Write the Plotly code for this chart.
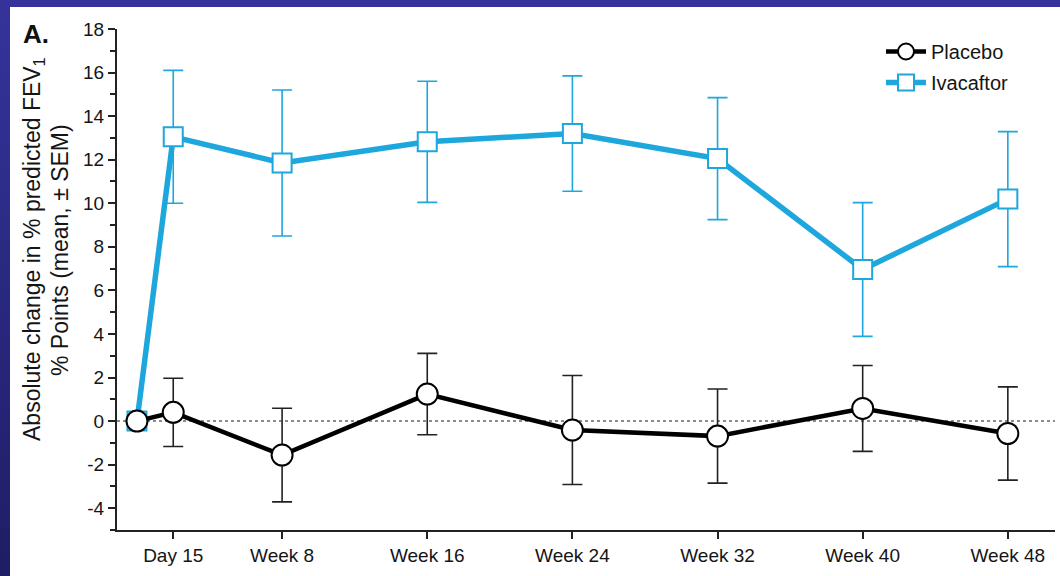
import plotly.graph_objects as go

# Visit schedule (weeks from baseline) and axis labels
weeks = [0, 2, 8, 16, 24, 32, 40, 48]
tick_weeks = [2, 8, 16, 24, 32, 40, 48]
tick_labels = ["Day 15", "Week 8", "Week 16", "Week 24", "Week 32", "Week 40", "Week 48"]
y_tick_vals = [-4, -2, 0, 2, 4, 6, 8, 10, 12, 14, 16, 18]
y_tick_text = ["-4", "-2", "0", "2", "4", "6", "8", "10", "12", "14", "16", "18"]

# Absolute change in % predicted FEV1 (mean) and SEM
placebo_mean = [0.0, 0.40, -1.56, 1.24, -0.41, -0.69, 0.58, -0.57]
placebo_sem = [0.0, 1.57, 2.15, 1.87, 2.50, 2.16, 1.97, 2.14]
ivacaftor_mean = [0.0, 13.05, 11.85, 12.82, 13.20, 12.05, 6.96, 10.19]
ivacaftor_sem = [0.0, 3.05, 3.35, 2.78, 2.65, 2.80, 3.07, 3.10]

BLUE = "#1ea7dd"
FONT = "Liberation Sans, Arial, sans-serif"

fig = go.Figure()

# Ivacaftor drawn first so the placebo baseline marker sits on top
fig.add_trace(go.Scatter(
    x=weeks, y=ivacaftor_mean, name="Ivacaftor", mode="lines+markers",
    line=dict(color=BLUE, width=5.5),
    marker=dict(symbol="square", size=19, color="white", line=dict(color=BLUE, width=2)),
    error_y=dict(type="data", array=ivacaftor_sem, visible=True, color=BLUE, thickness=1.6, width=10),
    legendrank=2, legendgroup="iva",
))
fig.add_trace(go.Scatter(
    x=weeks, y=placebo_mean, name="Placebo", mode="lines+markers",
    line=dict(color="black", width=4.5),
    marker=dict(symbol="circle", size=21, color="white", line=dict(color="black", width=2)),
    error_y=dict(type="data", array=placebo_sem, visible=True, color="#222222", thickness=1.6, width=10),
    legendrank=1, legendgroup="pla",
))

# Frame strips around the white panel (stepped gradient on the left edge)
shapes = []
L, PW = 117, 938
T, PH = 29, 501
def px_x(p):
    return (p - L) / PW
def px_y(p):
    return (T + PH - p) / PH

shapes.append(dict(type="rect", xref="paper", yref="paper", layer="below",
                   x0=px_x(0), x1=px_x(1060), y0=px_y(7), y1=px_y(0),
                   fillcolor="#35339a", line=dict(width=0)))
steps = 24
c0 = (0x35, 0x33, 0x9a)
c1 = (0x1e, 0x1e, 0x66)
for i in range(steps):
    f = i / (steps - 1)
    col = "rgb({},{},{})".format(*[round(a + (b - a) * f) for a, b in zip(c0, c1)])
    y_top = 576 * i / steps
    y_bot = 576 * (i + 1) / steps + 1
    shapes.append(dict(type="rect", xref="paper", yref="paper", layer="below",
                       x0=px_x(0), x1=px_x(10), y0=px_y(y_bot), y1=px_y(y_top),
                       fillcolor=col, line=dict(width=0)))

# Dotted zero reference line
shapes.append(dict(type="line", xref="paper", yref="y", x0=0, x1=1, y0=0, y1=0,
                   line=dict(color="#666666", width=1.5, dash="dot"), layer="below"))

fig.update_layout(
    width=1060, height=576,
    margin=dict(l=L, r=1060 - L - PW, t=T, b=576 - T - PH),
    paper_bgcolor="white", plot_bgcolor="white",
    font=dict(family=FONT, size=18, color="#151515"),
    shapes=shapes,
    showlegend=True,
    legend=dict(x=px_x(881), y=px_y(32), xanchor="left", yanchor="top",
                font=dict(size=20, color="#151515"), bgcolor="rgba(0,0,0,0)",
                tracegroupgap=2, itemwidth=40),
    xaxis=dict(range=[-1.1, 50.6], tickmode="array", tickvals=tick_weeks, ticktext=tick_labels,
               showline=True, linecolor="#222222", linewidth=2, ticks="outside", ticklen=7,
               tickwidth=2, tickcolor="#222222", showgrid=False, zeroline=False,
               tickfont=dict(size=19)),
    yaxis=dict(range=[-5, 18], tickmode="array", tickvals=y_tick_vals, ticktext=y_tick_text,
               showline=True, linecolor="#222222", linewidth=2, ticks="outside", ticklen=7,
               tickwidth=2, tickcolor="#222222", showgrid=False, zeroline=False,
               tickfont=dict(size=19),
               minor=dict(ticks="outside", ticklen=5, tickwidth=2, tickcolor="#222222",
                          tickvals=[-5, -3, -1, 1, 3, 5, 7, 9, 11, 13, 15, 17], showgrid=False)),
    annotations=[
        dict(text="<b>A.</b>", xref="paper", yref="paper", x=px_x(21), y=px_y(34),
             xanchor="left", yanchor="middle", showarrow=False,
             font=dict(size=26, color="#111111")),
        dict(text="Absolute change in % predicted FEV<sub>1</sub>", xref="paper", yref="paper",
             x=px_x(34), y=px_y(249), xanchor="center", yanchor="middle", textangle=-90,
             showarrow=False, font=dict(size=23, color="#151515")),
        dict(text="% Points (mean, ± SEM)", xref="paper", yref="paper",
             x=px_x(60), y=px_y(250), xanchor="center", yanchor="middle", textangle=-90,
             showarrow=False, font=dict(size=23, color="#151515")),
    ],
)

fig.write_html("out.html")
